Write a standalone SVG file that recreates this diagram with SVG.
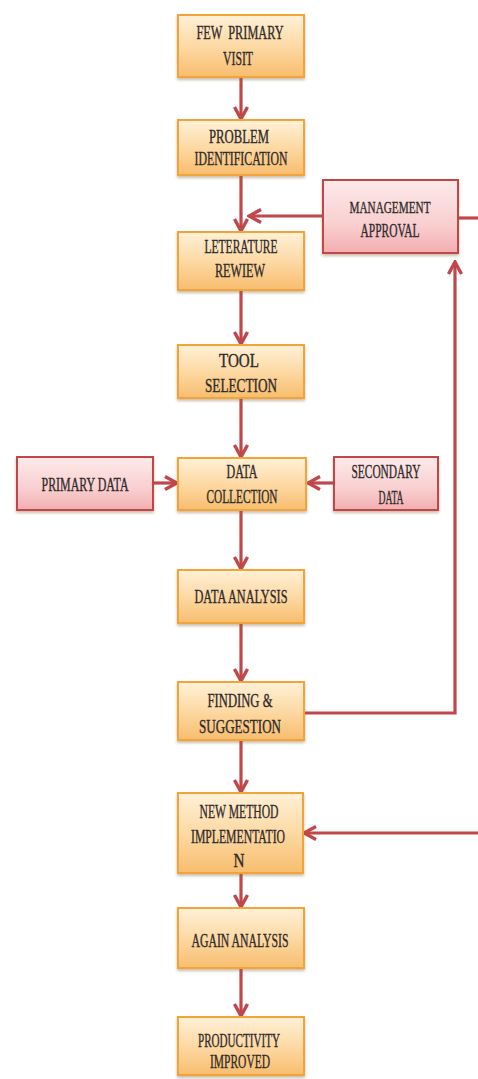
<svg xmlns="http://www.w3.org/2000/svg" width="478" height="1079" viewBox="0 0 478 1079">
<defs>
<linearGradient id="og" x1="0" y1="0" x2="0" y2="1">
<stop offset="0" stop-color="#fff1d8"/>
<stop offset="0.5" stop-color="#fdd9a4"/>
<stop offset="1" stop-color="#f7bd6e"/>
</linearGradient>
<linearGradient id="pg" x1="0" y1="0" x2="0" y2="1">
<stop offset="0" stop-color="#fdeaea"/>
<stop offset="0.6" stop-color="#f9cfd0"/>
<stop offset="1" stop-color="#f2aeb0"/>
</linearGradient>
<filter id="sh" x="-20%" y="-20%" width="140%" height="150%">
<feDropShadow dx="0" dy="2" stdDeviation="1.8" flood-color="#8a6a40" flood-opacity="0.45"/>
</filter>
<marker id="ah" markerUnits="userSpaceOnUse" viewBox="0 0 16 16" refX="14" refY="8" markerWidth="16" markerHeight="16" orient="auto">
<path d="M2,1.5 L14,8 L2,14.5" fill="none" stroke="#c0474a" stroke-width="3.4" stroke-linejoin="miter"/>
</marker>
</defs>
<style>
.ob{fill:url(#og);stroke:#f2a43a;stroke-width:2;filter:url(#sh)}
.pb{fill:url(#pg);stroke:#c0474a;stroke-width:2;filter:url(#sh)}
.t{font-family:"Liberation Serif","Times New Roman",serif;font-size:18.5px;fill:#2f2a2a;stroke:#2f2a2a;stroke-width:0.35;text-anchor:middle}
.s{font-size:17px}
.c{fill:none;stroke:#c0474a;stroke-width:3.2}
</style>
<g id="connectors">
<line class="c" x1="241" y1="77" x2="241" y2="119" marker-end="url(#ah)"/>
<line class="c" x1="241" y1="175" x2="241" y2="231" marker-end="url(#ah)"/>
<line class="c" x1="323" y1="216" x2="249" y2="216" marker-end="url(#ah)"/>
<line class="c" x1="458" y1="218" x2="478" y2="218"/>
<line class="c" x1="241" y1="290" x2="241" y2="344" marker-end="url(#ah)"/>
<line class="c" x1="241" y1="398" x2="241" y2="457" marker-end="url(#ah)"/>
<line class="c" x1="153" y1="483" x2="177" y2="483" marker-end="url(#ah)"/>
<line class="c" x1="334" y1="483" x2="308" y2="483" marker-end="url(#ah)"/>
<line class="c" x1="241" y1="510" x2="241" y2="569" marker-end="url(#ah)"/>
<line class="c" x1="241" y1="623" x2="241" y2="681" marker-end="url(#ah)"/>
<polyline class="c" points="305,713 455,713 455,262" marker-end="url(#ah)"/>
<line class="c" x1="241" y1="740" x2="241" y2="792" marker-end="url(#ah)"/>
<line class="c" x1="478" y1="833" x2="304" y2="833" marker-end="url(#ah)"/>
<line class="c" x1="241" y1="873" x2="241" y2="907" marker-end="url(#ah)"/>
<line class="c" x1="241" y1="968" x2="241" y2="1016" marker-end="url(#ah)"/>
</g>
<g id="n1"><rect class="ob" x="178" y="15" width="126" height="62"/>
<text class="t" x="240" y="39" textLength="87" lengthAdjust="spacingAndGlyphs" xml:space="preserve">FEW  PRIMARY</text>
<text class="t" x="238" y="65" textLength="30" lengthAdjust="spacingAndGlyphs">VISIT</text></g>
<g id="n2"><rect class="ob" x="178" y="120" width="126" height="55"/>
<text class="t" x="239" y="143" textLength="60" lengthAdjust="spacingAndGlyphs">PROBLEM</text>
<text class="t" x="241" y="165" textLength="93" lengthAdjust="spacingAndGlyphs">IDENTIFICATION</text></g>
<g id="n3"><rect class="ob" x="178" y="232" width="126" height="58"/>
<text class="t" x="241" y="253" textLength="73" lengthAdjust="spacingAndGlyphs">LETERATURE</text>
<text class="t" x="240" y="277" textLength="50" lengthAdjust="spacingAndGlyphs">REWIEW</text></g>
<g id="n4"><rect class="ob" x="178" y="345" width="126" height="53"/>
<text class="t" x="239" y="367" textLength="40" lengthAdjust="spacingAndGlyphs">TOOL</text>
<text class="t" x="241" y="392" textLength="72" lengthAdjust="spacingAndGlyphs">SELECTION</text></g>
<g id="n5"><rect class="ob" x="178" y="458" width="128" height="52"/>
<text class="t" x="242" y="478" textLength="31" lengthAdjust="spacingAndGlyphs">DATA</text>
<text class="t" x="242" y="503" textLength="71" lengthAdjust="spacingAndGlyphs">COLLECTION</text></g>
<g id="n6"><rect class="ob" x="178" y="570" width="126" height="53"/>
<text class="t" x="241" y="603" textLength="93" lengthAdjust="spacingAndGlyphs">DATA ANALYSIS</text></g>
<g id="n7"><rect class="ob" x="178" y="682" width="126" height="58"/>
<text class="t" x="240" y="707" textLength="65" lengthAdjust="spacingAndGlyphs">FINDING &amp;</text>
<text class="t" x="240" y="733" textLength="82" lengthAdjust="spacingAndGlyphs">SUGGESTION</text></g>
<g id="n8"><rect class="ob" x="178" y="793" width="125" height="80"/>
<text class="t" x="239" y="818" textLength="79" lengthAdjust="spacingAndGlyphs">NEW METHOD</text>
<text class="t" x="238" y="843" textLength="94" lengthAdjust="spacingAndGlyphs">IMPLEMENTATIO</text>
<text class="t" x="239" y="867" textLength="11" lengthAdjust="spacingAndGlyphs">N</text></g>
<g id="n9"><rect class="ob" x="178" y="908" width="126" height="60"/>
<text class="t" x="240" y="947" textLength="97" lengthAdjust="spacingAndGlyphs">AGAIN ANALYSIS</text></g>
<g id="n10"><rect class="ob" x="178" y="1017" width="126" height="58"/>
<text class="t" x="239" y="1047" textLength="82" lengthAdjust="spacingAndGlyphs">PRODUCTIVITY</text>
<text class="t" x="240" y="1068" textLength="60" lengthAdjust="spacingAndGlyphs">IMPROVED</text></g>
<g id="management"><rect class="pb" x="323" y="180" width="135" height="73"/>
<text class="t s" x="390" y="213" textLength="81" lengthAdjust="spacingAndGlyphs">MANAGEMENT</text>
<text class="t" x="390" y="237" textLength="59" lengthAdjust="spacingAndGlyphs">APPROVAL</text></g>
<g id="primary"><rect class="pb" x="17" y="457" width="136" height="53"/>
<text class="t" x="85" y="491" textLength="87" lengthAdjust="spacingAndGlyphs">PRIMARY DATA</text></g>
<g id="secondary"><rect class="pb" x="334" y="457" width="104" height="53"/>
<text class="t" x="386" y="478" textLength="69" lengthAdjust="spacingAndGlyphs">SECONDARY</text>
<text class="t" x="391" y="504" textLength="25" lengthAdjust="spacingAndGlyphs">DATA</text></g>
</svg>
